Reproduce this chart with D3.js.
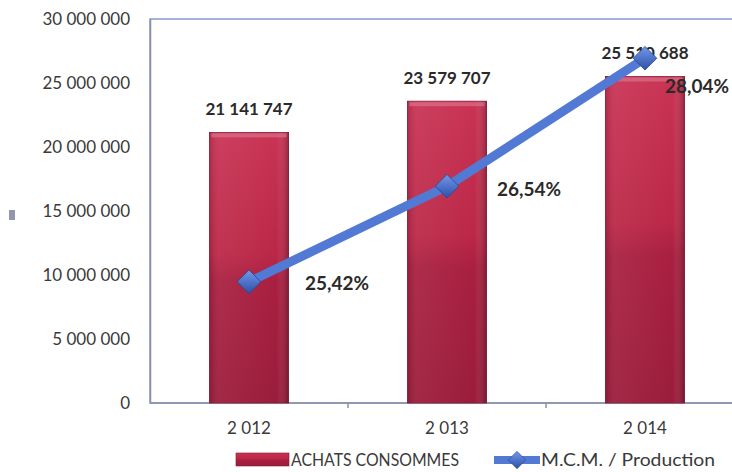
<!DOCTYPE html>
<html>
<head>
<meta charset="utf-8">
<script src="https://cdn.jsdelivr.net/npm/d3@7"></script>
<style>
  body { margin: 0; background: #fff; }
  text { font-family: Lato, "Open Sans", sans-serif; fill: #3a3a3a; }
  .lbl { font-weight: bold; fill: #2a2a2a; }
</style>
</head>
<body>
<div id="chart"></div>
<script>
// Données du graphique
const years = ["2 012", "2 013", "2 014"];
const achats = [21141747, 23579707, 25510688];
const mcmRatio = [25.42, 26.54, 28.04];
const achatsLabels = ["21 141 747", "23 579 707", "25 510 688"];
const ratioLabels = ["25,42%", "26,54%", "28,04%"];
const yTicks = [0, 5000000, 10000000, 15000000, 20000000, 25000000, 30000000];
const legendNames = ["ACHATS CONSOMMES", "M.C.M. / Production"];

const width = 732, height = 472;
const margin = { top: 19, left: 150, bottom: 69, right: -12 };
const innerW = width - margin.left - margin.right;
const innerH = height - margin.top - margin.bottom;

const svg = d3.select("#chart").append("svg")
    .attr("width", width).attr("height", height);

// Dégradés des barres et des marqueurs
const defs = svg.append("defs");
const gBar = defs.append("linearGradient").attr("id", "barGrad")
    .attr("x1", 0).attr("x2", 0).attr("y1", 0).attr("y2", 1);
gBar.append("stop").attr("offset", "0%").attr("stop-color", "#c93354");
gBar.append("stop").attr("offset", "45%").attr("stop-color", "#bb2747");
gBar.append("stop").attr("offset", "55%").attr("stop-color", "#a91f40");
gBar.append("stop").attr("offset", "100%").attr("stop-color", "#9b1c3b");
const gSide = defs.append("linearGradient").attr("id", "sideGrad")
    .attr("x1", 0).attr("x2", 1).attr("y1", 0).attr("y2", 0);
gSide.append("stop").attr("offset", "0%").attr("stop-color", "#000").attr("stop-opacity", 0.12);
gSide.append("stop").attr("offset", "12%").attr("stop-color", "#fff").attr("stop-opacity", 0.06);
gSide.append("stop").attr("offset", "85%").attr("stop-color", "#fff").attr("stop-opacity", 0);
gSide.append("stop").attr("offset", "100%").attr("stop-color", "#000").attr("stop-opacity", 0.25);
const gMark = defs.append("linearGradient").attr("id", "markGrad")
    .attr("x1", 0).attr("x2", 1).attr("y1", 0).attr("y2", 1);
gMark.append("stop").attr("offset", "0%").attr("stop-color", "#7398ea");
gMark.append("stop").attr("offset", "100%").attr("stop-color", "#2d4fa8");

const chart = svg.append("g").attr("transform", `translate(${margin.left},${margin.top})`);

const x = d3.scaleBand().domain(years).range([0, innerW]).paddingInner(0.6).paddingOuter(0.3);
const y = d3.scaleLinear().domain([0, 30000000]).range([innerH, 0]);
// Axe secondaire (non affiché) pour le ratio
const y2 = d3.scaleLinear().domain([24, 28.5]).range([innerH, 0]);

// Cadre de la zone de tracé
chart.append("rect")
    .attr("x", 0).attr("y", 0).attr("width", innerW).attr("height", innerH)
    .attr("fill", "none").attr("stroke", "#6a7fc8").attr("stroke-width", 1.2);

// Axe Y
const yAxis = chart.append("g")
    .call(d3.axisLeft(y).tickValues(yTicks).tickSize(0).tickPadding(20)
        .tickFormat(d => d3.format(",")(d).replace(/,/g, " ")));
yAxis.select(".domain").attr("stroke", "#8d8fa6").attr("stroke-width", 1.5);
yAxis.selectAll("text").style("font-size", "17px").attr("fill", "#3a3a3a");

// Axe X
const band = x.step();
const xAxis = chart.append("g").attr("transform", `translate(0,${innerH})`);
xAxis.append("line").attr("x1", 0).attr("x2", innerW)
    .attr("stroke", "#8d8fa6").attr("stroke-width", 1.5);
xAxis.selectAll(".sep").data(years.slice(1)).enter().append("line")
    .attr("x1", d => x(d) - x.paddingInner() * band / 2)
    .attr("x2", d => x(d) - x.paddingInner() * band / 2)
    .attr("y1", 0).attr("y2", 5)
    .attr("stroke", "#8d8fa6").attr("stroke-width", 1.5);
xAxis.selectAll(".xl").data(years).enter().append("text")
    .attr("x", d => x(d) + x.bandwidth() / 2)
    .attr("y", 31)
    .attr("text-anchor", "middle")
    .style("font-size", "17px")
    .text(d => d);

// Barres
const bars = chart.selectAll(".bar").data(achats).enter().append("g");
bars.append("rect")
    .attr("x", (d, i) => x(years[i]))
    .attr("y", d => y(d))
    .attr("width", x.bandwidth())
    .attr("height", d => innerH - y(d))
    .attr("fill", "url(#barGrad)")
    .attr("stroke", "#8a1a33").attr("stroke-width", 0.8);
bars.append("rect")
    .attr("x", (d, i) => x(years[i]))
    .attr("y", d => y(d))
    .attr("width", x.bandwidth())
    .attr("height", d => innerH - y(d))
    .attr("fill", "url(#sideGrad)");
bars.append("rect")
    .attr("x", (d, i) => x(years[i]) + 2)
    .attr("y", d => y(d) + 1)
    .attr("width", x.bandwidth() - 4)
    .attr("height", 4)
    .attr("fill", "#e07a92").attr("opacity", 0.6);

// Étiquettes des barres
chart.selectAll(".blab").data(achatsLabels).enter().append("text")
    .attr("class", "lbl")
    .attr("x", (d, i) => x(years[i]) + x.bandwidth() / 2)
    .attr("y", (d, i) => y(achats[i]) - 17)
    .attr("text-anchor", "middle")
    .style("font-size", "17px")
    .text(d => d);

// Ligne du ratio
const cx = i => x(years[i]) + x.bandwidth() / 2;
const line = d3.line().x((d, i) => cx(i)).y(d => y2(d));
chart.append("path")
    .datum(mcmRatio)
    .attr("d", line)
    .attr("fill", "none")
    .attr("stroke", "#5279d4")
    .attr("stroke-width", 9);

// Marqueurs en losange (carré tourné de 45°)
const diamond = d3.symbol(d3.symbolSquare, 280)();
chart.selectAll(".mark").data(mcmRatio).enter().append("path")
    .attr("d", diamond)
    .attr("transform", (d, i) => `translate(${cx(i)},${y2(d)}) rotate(45)`)
    .attr("fill", "url(#markGrad)")
    .attr("stroke", "#2b4796").attr("stroke-width", 0.8);

// Étiquettes du ratio
const pctOffsets = [[56, 8], [50, 10], [20, 35]];
chart.selectAll(".plab").data(ratioLabels).enter().append("text")
    .attr("class", "lbl")
    .attr("x", (d, i) => cx(i) + pctOffsets[i][0])
    .attr("y", (d, i) => y2(mcmRatio[i]) + pctOffsets[i][1])
    .style("font-size", "18px")
    .attr("textLength", 64)
    .attr("lengthAdjust", "spacingAndGlyphs")
    .text(d => d);

// Légende
const leg = svg.append("g").attr("transform", "translate(0,460)");
leg.append("rect").attr("x", 236).attr("y", -7).attr("width", 53).attr("height", 13)
    .attr("fill", "url(#barGrad)").attr("stroke", "#8a1a33").attr("stroke-width", 0.6);
leg.append("text").attr("x", 291).attr("y", 6).style("font-size", "17px")
    .attr("textLength", 168).attr("lengthAdjust", "spacingAndGlyphs")
    .text(legendNames[0]);
leg.append("line").attr("x1", 494).attr("x2", 540).attr("y1", 0).attr("y2", 0)
    .attr("stroke", "#5279d4").attr("stroke-width", 8);
leg.append("path").attr("d", d3.symbol(d3.symbolSquare, 150)())
    .attr("transform", "translate(517,0) rotate(45)")
    .attr("fill", "url(#markGrad)").attr("stroke", "#2b4796").attr("stroke-width", 0.6);
leg.append("text").attr("x", 541).attr("y", 6).style("font-size", "17px")
    .attr("textLength", 174).attr("lengthAdjust", "spacingAndGlyphs")
    .text(legendNames[1]);

// Petit repère à gauche
svg.append("rect").attr("x", 9).attr("y", 210).attr("width", 6).attr("height", 10)
    .attr("fill", "#7c7b9c").attr("opacity", 0.8);
</script>
</body>
</html>
